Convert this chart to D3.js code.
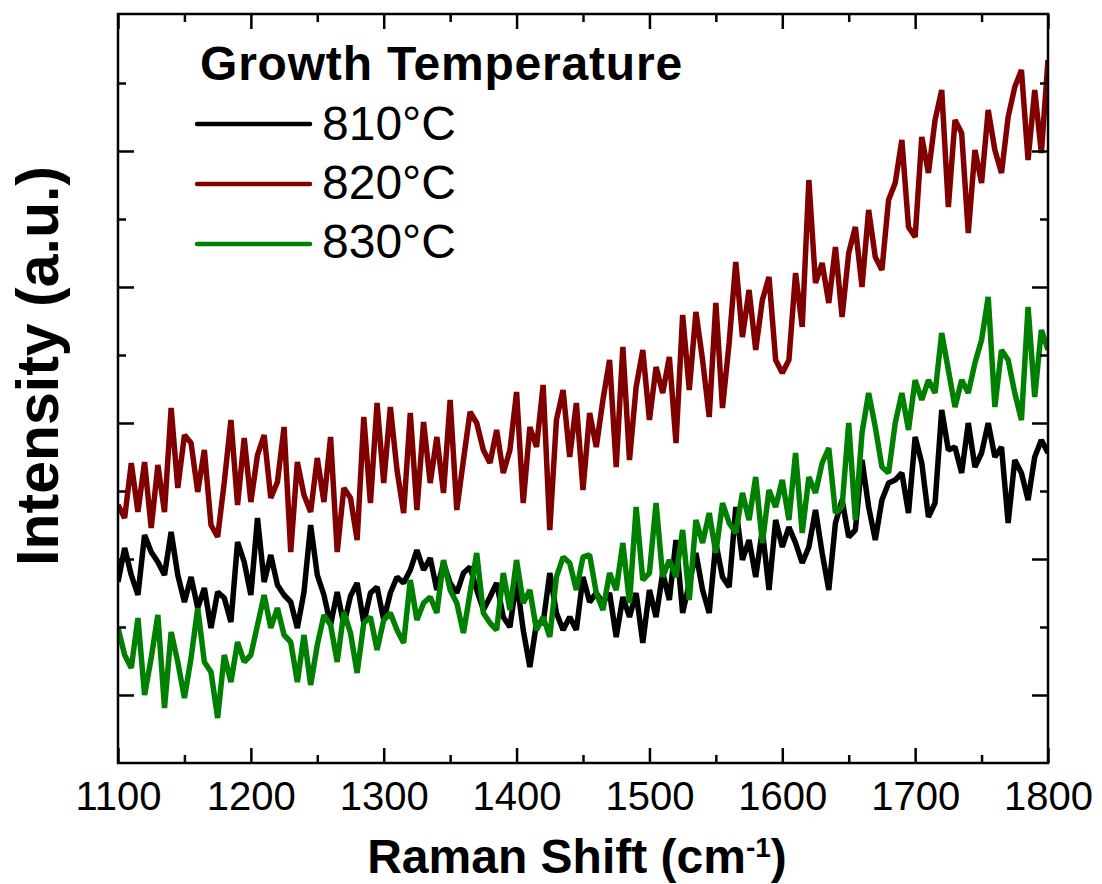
<!DOCTYPE html>
<html>
<head>
<meta charset="utf-8">
<script src="https://cdn.jsdelivr.net/npm/d3@7"></script>
<style>
  html, body { margin: 0; padding: 0; background: #ffffff; }
  svg { display: block; font-family: "Liberation Sans", Arial, Helvetica, sans-serif; }
</style>
</head>
<body>
<svg id="chart" width="1102" height="884"></svg>
<script>
// Raman shift grid (cm^-1)
const wavenumbers = [
  1100, 1105, 1110, 1115, 1120, 1125, 1130, 1135, 1140, 1145,
  1150, 1155, 1160, 1165, 1170, 1175, 1180, 1185, 1190, 1195,
  1200, 1205, 1210, 1215, 1220, 1225, 1230, 1235, 1240, 1245,
  1250, 1255, 1260, 1265, 1270, 1275, 1280, 1285, 1290, 1295,
  1300, 1305, 1310, 1315, 1320, 1325, 1330, 1335, 1340, 1345,
  1350, 1355, 1360, 1365, 1370, 1375, 1380, 1385, 1390, 1395,
  1400, 1405, 1410, 1415, 1420, 1425, 1430, 1435, 1440, 1445,
  1450, 1455, 1460, 1465, 1470, 1475, 1480, 1485, 1490, 1495,
  1500, 1505, 1510, 1515, 1520, 1525, 1530, 1535, 1540, 1545,
  1550, 1555, 1560, 1565, 1570, 1575, 1580, 1585, 1590, 1595,
  1600, 1605, 1610, 1615, 1620, 1625, 1630, 1635, 1640, 1645,
  1650, 1655, 1660, 1665, 1670, 1675, 1680, 1685, 1690, 1695,
  1700, 1705, 1710, 1715, 1720, 1725, 1730, 1735, 1740, 1745,
  1750, 1755, 1760, 1765, 1770, 1775, 1780, 1785, 1790, 1795,
  1800
];

// Intensity (a.u.) for each growth temperature
const intensity810 = [
  1810, 2150, 1880, 1680, 2280, 2110, 2010, 1880, 2310, 1880,
  1610, 1860, 1550, 1750, 1350, 1710, 1650, 1410, 2210, 2010,
  1680, 2450, 1810, 2080, 1780, 1680, 1610, 1350, 1710, 2380,
  1880, 1680, 1380, 1710, 1380, 1670, 1800, 1400, 1700, 1760,
  1430, 1700, 1860, 1800, 1930, 2130, 1930, 2050, 1730, 2000,
  1800, 1700, 1900, 1960, 1730, 1530, 1660, 1800, 1460, 1360,
  1830, 1330,  960, 1400, 1400, 1900, 1500, 1330, 1460, 1330,
  1860, 1610, 1700, 1600, 1700, 1260, 1660, 1460, 1700, 1200,
  1730, 1460, 1900, 1630, 2230, 1500, 1800, 2100, 1730, 1500,
  2200, 1860, 1760, 2560, 2030, 2230, 1860, 2330, 1730, 2430,
  2160, 2360, 2200, 2000, 2160, 2530, 2100, 1730, 2400, 2630,
  2260, 2330, 3030, 2560, 2230, 2630, 2800, 2830, 2900, 2500,
  3260, 3000, 2460, 2600, 3530, 3130, 3160, 2900, 3400, 2960,
  3100, 3400, 3060, 3160, 2400, 3030, 2900, 2630, 3060, 3230,
  3100
];

const intensity820 = [
  2580, 2450, 3000, 2510, 3010, 2350, 2980, 2510, 3550, 2750,
  3280, 3200, 2710, 3130, 2380, 2260, 2810, 3430, 2580, 3250,
  2610, 3080, 3280, 2650, 2810, 3360, 2110, 3010, 2680, 2510,
  3050, 2610, 3260, 2110, 2750, 2650, 2230, 3460, 2600, 3600,
  2800, 3560, 2930, 2500, 3500, 2530, 3410, 2800, 3260, 2700,
  3630, 2530, 3030, 3510, 3400, 3130, 3000, 3330, 2900, 3130,
  3710, 2600, 3360, 3160, 3780, 2330, 3430, 3730, 3060, 3600,
  2730, 3500, 3160, 3630, 4030, 2960, 4160, 3030, 3760, 4130,
  3430, 3960, 3700, 4060, 3200, 4480, 3730, 4510, 4030, 3460,
  4600, 3550, 4200, 5010, 4260, 4730, 4130, 4630, 4860, 4030,
  3900, 4030, 4900, 4360, 5830, 4800, 5000, 4600, 5160, 4460,
  5100, 5360, 4760, 5530, 5060, 4930, 5630, 5800, 6230, 5360,
  5260, 6260, 5900, 6430, 6730, 5560, 6430, 6300, 5300, 6130,
  5800, 6530, 6130, 5900, 6460, 6760, 6930, 6030, 6730, 6100,
  7030
];

const intensity830 = [
  1350, 1080,  950, 1450,  680, 1050, 1480,  550, 1310, 1010,
   650, 1050, 1550, 1010,  910,  450, 1080,  810, 1210, 1010,
  1080, 1380, 1680, 1350, 1550, 1280, 1210,  810, 1280,  780,
  1180, 1480, 1380, 1010, 1510, 1300,  900, 1400, 1460, 1130,
  1430, 1500, 1330, 1200, 1830, 1430, 1600, 1660, 1500, 2030,
  1730, 1600, 1300, 1700, 2100, 1500, 1400, 1330, 1900, 1530,
  2030, 1600, 1730, 1330, 1460, 1260, 1860, 2060, 2000, 1730,
  2060, 2080, 1700, 1530, 1900, 1730, 2200, 1600, 2560, 1830,
  1900, 2600, 1860, 2030, 1860, 2330, 1630, 2430, 2200, 2500,
  2100, 2600, 2400, 2300, 2700, 2430, 2860, 2200, 2730, 2560,
  2830, 2430, 3100, 2300, 2860, 2700, 3000, 3150, 2500, 2560,
  3400, 2430, 3300, 3700, 3360, 2960, 2900, 3400, 3700, 3330,
  3830, 3630, 3830, 3700, 4300, 3930, 3560, 3830, 3700, 4000,
  4230, 4660, 3560, 4130, 4030, 3700, 3430, 4560, 3660, 4330,
  4130
];

const seriesNames = ["810°C", "820°C", "830°C"];
const seriesColors = ["#000000", "#800000", "#008000"];
const legendTitle = "Growth Temperature";

const xMajorTicks = [1100, 1200, 1300, 1400, 1500, 1600, 1700, 1800];
const xMinorTicks = [1150, 1250, 1350, 1450, 1550, 1650, 1750];
const yMajorTicks = [680, 2040, 3400, 4760, 6120];
const yMinorTicks = [1360, 2720, 4080, 5440, 6800];

// ---- layout ----
const plot = { left: 118, right: 1048, top: 14, bottom: 763 };
const x = d3.scaleLinear().domain([1100, 1800]).range([plot.left, plot.right]);
const y = d3.scaleLinear().domain([0, 7490]).range([plot.bottom, plot.top]);

const svg = d3.select("#chart");

svg.append("defs").append("clipPath").attr("id", "plotClip")
  .append("rect")
  .attr("x", plot.left).attr("y", plot.top)
  .attr("width", plot.right - plot.left).attr("height", plot.bottom - plot.top);

// ---- spectra ----
const series = [intensity810, intensity820, intensity830].map((vals, i) => ({
  name: seriesNames[i],
  color: seriesColors[i],
  points: vals.map((v, j) => ({ w: wavenumbers[j], v: v }))
}));

const line = d3.line()
  .x(d => x(d.w))
  .y(d => y(d.v));

svg.append("g")
  .attr("clip-path", "url(#plotClip)")
  .selectAll("path")
  .data(series)
  .join("path")
  .attr("fill", "none")
  .attr("stroke", d => d.color)
  .attr("stroke-width", 5.5)
  .attr("stroke-linejoin", "bevel")
  .attr("d", d => line(d.points));

// ---- axes (ticks on all four sides, pointing inward) ----
const tickW = 2.5;
function styleAxis(g) {
  g.select(".domain").remove();
  g.selectAll(".tick line").attr("stroke", "#000").attr("stroke-width", tickW);
  g.selectAll(".tick text").attr("fill", "#000");
}

// bottom
svg.append("g").attr("transform", `translate(0,${plot.bottom})`)
  .call(d3.axisBottom(x).tickValues(xMajorTicks).tickSize(-15).tickPadding(19)
        .tickFormat(d3.format("d")))
  .call(styleAxis)
  .call(g => g.selectAll(".tick text")
    .attr("font-size", 40)
    .attr("font-family", "'Liberation Sans', Arial, sans-serif"));
svg.append("g").attr("transform", `translate(0,${plot.bottom})`)
  .call(d3.axisBottom(x).tickValues(xMinorTicks).tickSize(-8).tickFormat(""))
  .call(styleAxis);

// top
svg.append("g").attr("transform", `translate(0,${plot.top})`)
  .call(d3.axisTop(x).tickValues(xMajorTicks).tickSize(-15).tickFormat(""))
  .call(styleAxis);
svg.append("g").attr("transform", `translate(0,${plot.top})`)
  .call(d3.axisTop(x).tickValues(xMinorTicks).tickSize(-8).tickFormat(""))
  .call(styleAxis);

// left
svg.append("g").attr("transform", `translate(${plot.left},0)`)
  .call(d3.axisLeft(y).tickValues(yMajorTicks).tickSize(-16).tickFormat(""))
  .call(styleAxis);
svg.append("g").attr("transform", `translate(${plot.left},0)`)
  .call(d3.axisLeft(y).tickValues(yMinorTicks).tickSize(-8).tickFormat(""))
  .call(styleAxis);

// right
svg.append("g").attr("transform", `translate(${plot.right},0)`)
  .call(d3.axisRight(y).tickValues(yMajorTicks).tickSize(-16).tickFormat(""))
  .call(styleAxis);
svg.append("g").attr("transform", `translate(${plot.right},0)`)
  .call(d3.axisRight(y).tickValues(yMinorTicks).tickSize(-8).tickFormat(""))
  .call(styleAxis);

// frame
svg.append("rect")
  .attr("x", plot.left).attr("y", plot.top)
  .attr("width", plot.right - plot.left).attr("height", plot.bottom - plot.top)
  .attr("fill", "none").attr("stroke", "#000").attr("stroke-width", 2.5);

// ---- axis titles ----
const xTitle = svg.append("text")
  .attr("x", 577).attr("y", 873)
  .attr("text-anchor", "middle")
  .attr("font-size", 48).attr("font-weight", "bold").attr("fill", "#000");
xTitle.append("tspan").text("Raman Shift (cm");
xTitle.append("tspan").attr("font-size", 28).attr("dy", -16).text("-1");
xTitle.append("tspan").attr("dy", 16).text(")");

svg.append("text")
  .attr("transform", "translate(58,366) rotate(-90)")
  .attr("text-anchor", "middle")
  .attr("font-size", 59).attr("font-weight", "bold").attr("fill", "#000")
  .text("Intensity (a.u.)");

// ---- legend ----
const legend = svg.append("g");
legend.append("text")
  .attr("x", 200).attr("y", 80)
  .attr("font-size", 48).attr("font-weight", "bold").attr("fill", "#000")
  .attr("letter-spacing", 0.8)
  .text(legendTitle);

const items = legend.selectAll("g.item").data(series).join("g").attr("class", "item");
items.append("line")
  .attr("x1", 197).attr("x2", 310)
  .attr("y1", (d, i) => 124 + i * 60).attr("y2", (d, i) => 124 + i * 60)
  .attr("stroke", d => d.color).attr("stroke-width", 4.5).attr("stroke-linecap", "round");
items.append("text")
  .attr("x", 322).attr("y", (d, i) => 140 + i * 59)
  .attr("font-size", 48).attr("fill", "#000")
  .text(d => d.name);
</script>
</body>
</html>
